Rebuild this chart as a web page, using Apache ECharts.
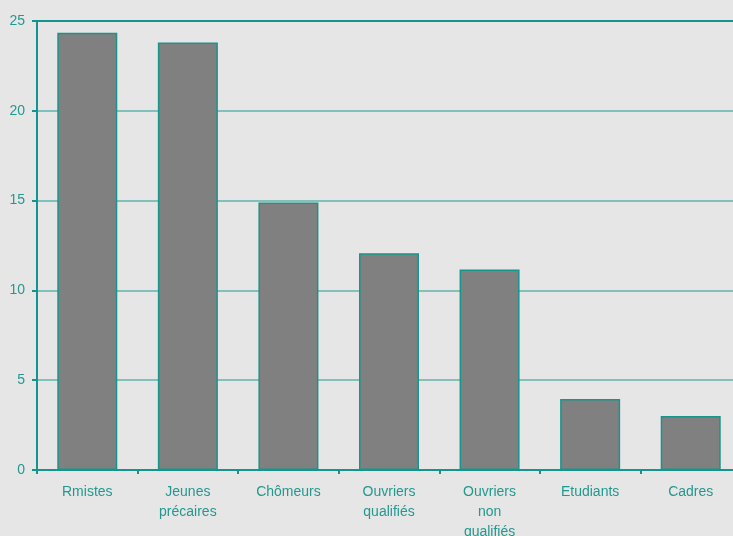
<!DOCTYPE html>
<html><head><meta charset="utf-8">
<script src="https://cdn.jsdelivr.net/npm/echarts@6/dist/echarts.min.js"></script>
<style>html,body{margin:0;padding:0;background:#e6e6e6}#c{width:733px;height:536px}</style>
</head><body><div id="c"></div>
<script>
const categories = ["Rmistes", "Jeunes\nprécaires", "Chômeurs", "Ouvriers\nqualifiés", "Ouvriers\nnon\nqualifiés", "Etudiants", "Cadres"];
const values = [24.35, 23.8, 14.9, 12.07, 11.17, 3.95, 3.0];
const yTicks = [0, 5, 10, 15, 20, 25];

const teal = '#13948c';
const font = 'Liberation Sans, Arial, sans-serif';
const chart = echarts.init(document.getElementById('c'));
chart.setOption({
  backgroundColor: '#e6e6e6',
  animation: false,
  grid: {left: 37, right: -8, top: 21, bottom: 66, outerBoundsMode: 'none', containLabel: false},
  xAxis: [{
    type: 'category', data: categories,
    axisLine: {lineStyle: {color: teal, width: 2}},
    axisTick: {show: true, length: 4, lineStyle: {color: teal, width: 2}},
    axisLabel: {color: '#22998f', fontSize: 14, fontFamily: font, margin: 12, lineHeight: 20, interval: 0}
  }, {
    type: 'category', data: categories, position: 'top',
    axisLine: {show: true, lineStyle: {color: teal, width: 2}},
    axisTick: {show: false}, axisLabel: {show: false}
  }],
  yAxis: {
    type: 'value', min: yTicks[0], max: yTicks[yTicks.length-1], interval: 5,
    axisLine: {show: true, lineStyle: {color: teal, width: 2}},
    axisTick: {show: true, length: 5, lineStyle: {color: teal, width: 2}},
    axisLabel: {color: '#22998f', fontSize: 14, fontFamily: font, margin: 12},
    splitLine: {show: true, lineStyle: {color: '#5fb3ad', width: 1.5}}
  },
  series: [{
    type: 'bar', data: values, barWidth: 60,
    itemStyle: {color: '#808080', borderColor: '#17958b', borderWidth: 1.5}
  }]
});
</script></body></html>
